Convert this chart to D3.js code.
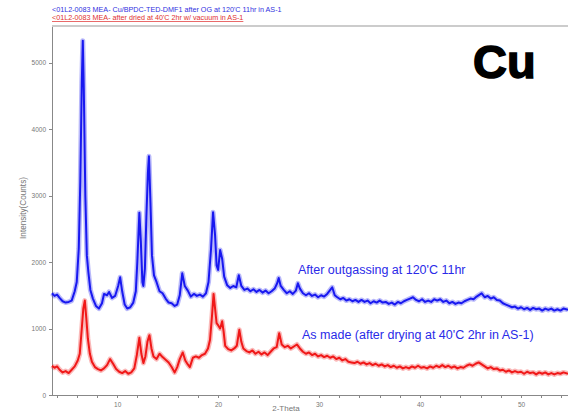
<!DOCTYPE html>
<html lang="en">
<head>
  <meta charset="UTF-8">
  <title>Cu XRD patterns</title>
  <style>
    body { margin: 0; background: #fff; }
    .axis path, .axis line { stroke: #888; shape-rendering: crispEdges; }
    .axis text { font-family: "Liberation Sans", Arial, sans-serif; font-size: 6.5px; fill: #777; }
    .scan { fill: none; stroke-linejoin: round; }
  </style>
</head>
<body>
  <div id="chart"></div>
  <script src="https://d3js.org/d3.v7.min.js"></script>
  <script>
    // 2-Theta vs counts
    const blueScan = [[3.55,1530],[3.8,1490],[4.05,1510],[4.3,1460],[4.6,1410],[4.9,1390],[5.2,1400],[5.5,1420],[5.8,1560],[6.0,1700],[6.2,2200],[6.35,3200],[6.5,4700],[6.6,5330],[6.7,4600],[6.85,3000],[7.0,2100],[7.15,1850],[7.35,1580],[7.6,1450],[7.9,1340],[8.2,1300],[8.5,1380],[8.7,1520],[9.0,1500],[9.2,1550],[9.5,1460],[9.8,1490],[10.1,1640],[10.3,1770],[10.5,1560],[10.75,1360],[11.0,1300],[11.3,1320],[11.6,1390],[11.85,1560],[12.0,2000],[12.2,2740],[12.35,2300],[12.5,1700],[12.6,1640],[12.75,1900],[12.9,2700],[13.05,3350],[13.15,3590],[13.3,2900],[13.45,2100],[13.65,1800],[13.9,1700],[14.2,1560],[14.5,1530],[14.8,1450],[15.1,1390],[15.4,1380],[15.7,1340],[15.95,1360],[16.2,1500],[16.45,1830],[16.7,1640],[17.0,1570],[17.3,1480],[17.6,1520],[17.9,1490],[18.2,1510],[18.5,1480],[18.8,1530],[19.05,1700],[19.3,2200],[19.5,2750],[19.7,2400],[19.85,1950],[20.0,1880],[20.2,2180],[20.4,2050],[20.6,1780],[20.9,1650],[21.2,1610],[21.5,1640],[21.8,1620],[22.05,1800],[22.3,1640],[22.6,1580],[22.9,1600],[23.2,1560],[23.5,1590],[23.8,1550],[24.1,1580],[24.4,1540],[24.7,1570],[25.0,1530],[25.3,1560],[25.6,1600],[25.85,1680],[26.0,1760],[26.2,1640],[26.5,1580],[26.8,1530],[27.1,1560],[27.4,1520],[27.7,1570],[27.9,1680],[28.1,1600],[28.4,1530],[28.7,1500],[29.0,1530],[29.3,1490],[29.6,1510],[29.9,1470],[30.2,1500],[30.5,1480],[30.8,1520],[31.05,1570],[31.3,1620],[31.55,1500],[31.8,1470],[32.1,1440],[32.4,1460],[32.7,1420],[33.0,1440],[33.3,1410],[33.6,1430],[33.9,1400],[34.2,1430],[34.5,1400],[34.8,1420],[35.1,1380],[35.4,1410],[35.7,1390],[36.0,1420],[36.3,1390],[36.6,1400],[36.9,1370],[37.2,1390],[37.5,1360],[37.8,1400],[38.1,1380],[38.4,1410],[38.7,1430],[39.0,1450],[39.3,1470],[39.6,1430],[39.9,1410],[40.2,1440],[40.5,1400],[40.8,1420],[41.1,1400],[41.4,1440],[41.7,1420],[42.0,1440],[42.3,1400],[42.6,1420],[42.9,1380],[43.2,1400],[43.5,1370],[43.8,1390],[44.1,1380],[44.4,1410],[44.7,1430],[45.0,1450],[45.3,1440],[45.6,1480],[45.9,1510],[46.1,1530],[46.4,1470],[46.7,1490],[47.0,1450],[47.3,1470],[47.6,1430],[47.9,1420],[48.2,1380],[48.5,1360],[48.8,1340],[49.1,1320],[49.4,1330],[49.7,1300],[50.0,1320],[50.3,1290],[50.6,1310],[50.9,1280],[51.2,1310],[51.5,1290],[51.8,1300],[52.1,1270],[52.4,1300],[52.7,1280],[53.0,1300],[53.3,1270],[53.6,1290],[53.9,1270],[54.2,1300],[54.65,1280]];

    const redScan = [[3.55,440],[3.8,410],[4.05,430],[4.3,380],[4.6,340],[4.9,360],[5.2,330],[5.5,380],[5.8,430],[6.1,520],[6.3,620],[6.5,1000],[6.65,1300],[6.8,1420],[6.95,1150],[7.1,850],[7.3,620],[7.5,500],[7.8,420],[8.1,390],[8.4,370],[8.7,400],[9.0,450],[9.3,540],[9.6,470],[9.9,390],[10.2,350],[10.5,330],[10.8,360],[11.1,320],[11.4,340],[11.7,400],[11.95,600],[12.2,860],[12.4,620],[12.6,480],[12.8,580],[13.0,800],[13.2,900],[13.4,700],[13.6,580],[13.9,540],[14.2,620],[14.5,570],[14.8,530],[15.1,490],[15.4,420],[15.7,340],[15.95,420],[16.2,540],[16.5,640],[16.75,520],[17.0,460],[17.2,420],[17.5,560],[17.8,580],[18.1,560],[18.4,600],[18.7,620],[19.0,700],[19.2,830],[19.4,1200],[19.55,1520],[19.7,1300],[19.85,1080],[20.0,1050],[20.2,1000],[20.4,1110],[20.55,950],[20.7,740],[21.0,690],[21.3,670],[21.6,700],[21.85,740],[22.1,980],[22.3,800],[22.5,700],[22.8,660],[23.1,640],[23.4,670],[23.7,620],[24.0,650],[24.3,610],[24.6,640],[24.9,600],[25.2,650],[25.5,700],[25.8,720],[26.05,930],[26.3,760],[26.6,720],[26.9,740],[27.2,700],[27.5,730],[27.8,760],[28.1,700],[28.4,650],[28.7,620],[29.0,640],[29.3,600],[29.6,620],[29.9,580],[30.2,600],[30.5,570],[30.8,590],[31.1,560],[31.4,580],[31.7,540],[32.0,560],[32.3,520],[32.6,540],[32.9,500],[33.2,490],[33.5,480],[33.8,500],[34.1,470],[34.4,490],[34.7,460],[35.0,480],[35.3,450],[35.6,470],[35.9,440],[36.2,460],[36.5,430],[36.8,450],[37.1,420],[37.4,440],[37.7,410],[38.0,430],[38.3,400],[38.6,420],[38.9,400],[39.2,430],[39.5,410],[39.8,440],[40.1,410],[40.4,420],[40.7,400],[41.0,430],[41.3,410],[41.6,440],[41.9,420],[42.2,450],[42.5,420],[42.8,440],[43.1,410],[43.4,430],[43.7,400],[44.0,420],[44.3,410],[44.6,440],[44.9,460],[45.2,440],[45.5,470],[45.8,490],[46.1,460],[46.4,430],[46.7,400],[47.0,420],[47.3,390],[47.6,400],[47.9,370],[48.2,380],[48.5,350],[48.8,370],[49.1,340],[49.4,360],[49.7,340],[50.0,350],[50.3,320],[50.6,350],[50.9,330],[51.2,340],[51.5,310],[51.8,340],[52.1,320],[52.4,340],[52.7,310],[53.0,330],[53.3,310],[53.6,330],[53.9,320],[54.2,340],[54.65,320]];

    const yTicks = [0, 1000, 2000, 3000, 4000, 5000];
    const xTicks = [10, 20, 30, 40, 50];
    const headerBlue = "<01L2-0083 MEA- Cu/BPDC-TED-DMF1 after OG at 120'C 11hr in AS-1";
    const headerRed = "<01L2-0083 MEA- after dried at 40'C 2hr w/ vacuum in AS-1";
    const noteBlue = "After outgassing at 120'C 11hr";
    const noteRed = "As made (after drying at 40'C 2hr in AS-1)";

    const W = 568, H = 414;
    const plotLeft = 52, plotRight = 568, plotTop = 26, plotBottom = 395;

    const svg = d3.select("#chart").append("svg")
      .attr("width", W).attr("height", H)
      .style("font-family", "'Liberation Sans', Arial, sans-serif");

    const x = d3.scaleLinear().domain([3.55, 54.65]).range([plotLeft, plotRight]);
    const y = d3.scaleLinear().domain([0, 5550]).range([plotBottom, plotTop]);

    // frame top line
    svg.append("line")
      .attr("x1", plotLeft).attr("x2", plotRight).attr("y1", plotTop).attr("y2", plotTop)
      .attr("stroke", "#999").attr("stroke-width", 1);

    // x axis, minor ticks every 2 deg
    const xg = svg.append("g").attr("class", "axis")
      .attr("transform", "translate(0," + plotBottom + ")")
      .call(d3.axisBottom(x).tickValues(d3.range(4, 55, 2)).tickSize(3).tickSizeOuter(0)
        .tickFormat(d => xTicks.includes(d) ? d : ""));
    xg.selectAll("text").attr("dy", "0.9em");

    svg.append("g").attr("class", "axis")
      .attr("transform", "translate(" + plotLeft + ",0)")
      .call(d3.axisLeft(y).tickValues(yTicks).tickSize(3).tickSizeOuter(0).tickFormat(d3.format("d")));

    svg.append("text").attr("x", 286).attr("y", 411).attr("text-anchor", "middle")
      .attr("font-size", 8).attr("fill", "#777").text("2-Theta");

    svg.append("text").attr("transform", "translate(26,208) rotate(-90)")
      .attr("text-anchor", "middle").attr("font-size", 8.2).attr("fill", "#777")
      .text("Intensity(Counts)");

    const line = d3.line().x(d => x(d[0])).y(d => y(d[1]));

    // soft wide underlay imitates the noise band, then the trace itself
    [[redScan, "#f01818"], [blueScan, "#1818f0"]].forEach(([scan, col]) => {
      svg.append("path").datum(scan).attr("class", "scan")
        .attr("stroke", col).attr("stroke-width", 5).attr("stroke-opacity", 0.3).attr("d", line);
      svg.append("path").datum(scan).attr("class", "scan")
        .attr("stroke", col).attr("stroke-width", 2).attr("d", line);
    });

    // header lines
    svg.append("text").attr("x", 52).attr("y", 12).attr("font-size", 7.2)
      .attr("fill", "#3030e0").text(headerBlue);
    svg.append("text").attr("x", 52).attr("y", 20).attr("font-size", 7.2)
      .attr("fill", "#e03030").attr("text-decoration", "underline").text(headerRed);

    // annotations
    svg.append("text").attr("x", 298).attr("y", 274).attr("font-size", 12.5)
      .attr("fill", "#2a2ae8").text(noteBlue);
    svg.append("text").attr("x", 302).attr("y", 339).attr("font-size", 12.5)
      .attr("fill", "#2a2ae8").text(noteRed);

    svg.append("text").attr("x", 473).attr("y", 78).attr("font-size", 47)
      .attr("font-weight", "bold").attr("fill", "#000")
      .attr("stroke", "#000").attr("stroke-width", 1.5).text("Cu");
  </script>
</body>
</html>
